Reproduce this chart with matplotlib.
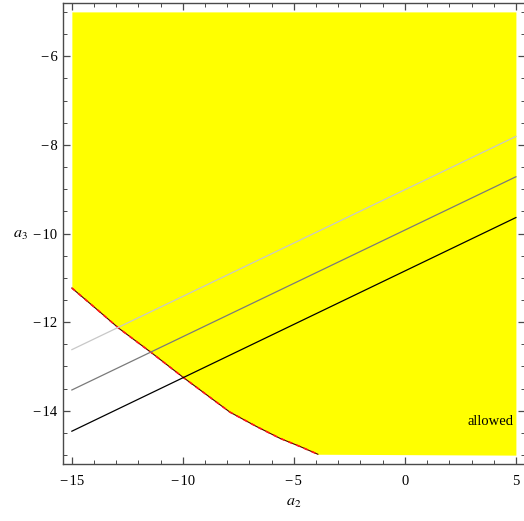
import matplotlib
matplotlib.use("Agg")
import matplotlib.pyplot as plt
from matplotlib.ticker import MultipleLocator, FuncFormatter

# boundary of the allowed region
boundary_x = [-15.0, -13.9, -12.88, -11.44, -10.0, -8.9, -7.88, -6.7, -5.63, -4.7, -3.92, 5.0]
boundary_y = [-11.23, -11.70, -12.14, -12.68, -13.24, -13.65, -14.03, -14.35, -14.62, -14.81, -14.98, -15.0]
region_top = -5.0

# three parallel lines
line_x = [-15.0, 5.0]
light_y = [-12.62, -7.81]
gray_y = [-13.53, -8.72]
black_y = [-14.46, -9.64]

plt.rcParams["font.family"] = ["Liberation Serif", "DejaVu Serif"]
plt.rcParams["mathtext.fontset"] = "stix"


def tick_text(value, pos):
    # Mathematica style minus with a hair space after it
    if value < 0:
        return "\u2212\u200a%d" % round(-value)
    return "%d" % round(value)


fig = plt.figure(figsize=(5.24, 5.21), dpi=100)
ax = fig.add_axes([0.1202, 0.1094, 0.8813, 0.8848])

ax.fill_between(boundary_x, boundary_y, region_top, color="#ffff00", linewidth=0, zorder=1)
curve_n = len(boundary_x) - 1
ax.plot(boundary_x[:curve_n], boundary_y[:curve_n], color="#500000", linewidth=0.8, zorder=2)
ax.plot(boundary_x[:curve_n], boundary_y[:curve_n], color="#ff1a1a", linewidth=1.2,
        dashes=(2.5, 2.5), zorder=3)

ax.plot(line_x, light_y, color="#c8c8c8", linewidth=0.9, zorder=4)
ax.plot(line_x, gray_y, color="#7a7a7a", linewidth=0.9, zorder=4)
ax.plot(line_x, black_y, color="black", linewidth=0.9, zorder=4)

ax.text(3.85, -14.23, "allowed", fontsize=10.5, ha="center", va="center", zorder=5)

ax.set_xlim(-15.4, 5.4)
ax.set_ylim(-15.2, -4.8)
ax.xaxis.set_major_locator(MultipleLocator(5))
ax.xaxis.set_minor_locator(MultipleLocator(1))
ax.yaxis.set_major_locator(MultipleLocator(2))
ax.yaxis.set_minor_locator(MultipleLocator(0.5))
ax.xaxis.set_major_formatter(FuncFormatter(tick_text))
ax.yaxis.set_major_formatter(FuncFormatter(tick_text))

frame_color = "#4a4a4a"
for spine in ax.spines.values():
    spine.set_color(frame_color)
    spine.set_linewidth(1.0)
ax.tick_params(which="both", direction="in", top=True, right=True, color=frame_color,
               labelsize=10.5)
ax.tick_params(which="major", length=5, width=0.9)
ax.tick_params(which="minor", length=3, width=0.7)
ax.tick_params(axis="x", which="major", pad=8)
ax.tick_params(axis="y", which="major", pad=4)

ax.set_xlabel("$a_2$", fontsize=11.5, labelpad=4)
ax.set_ylabel("$a_3$", fontsize=11.5, rotation=0, labelpad=9, va="center")

fig.savefig("out.png", dpi=100)
